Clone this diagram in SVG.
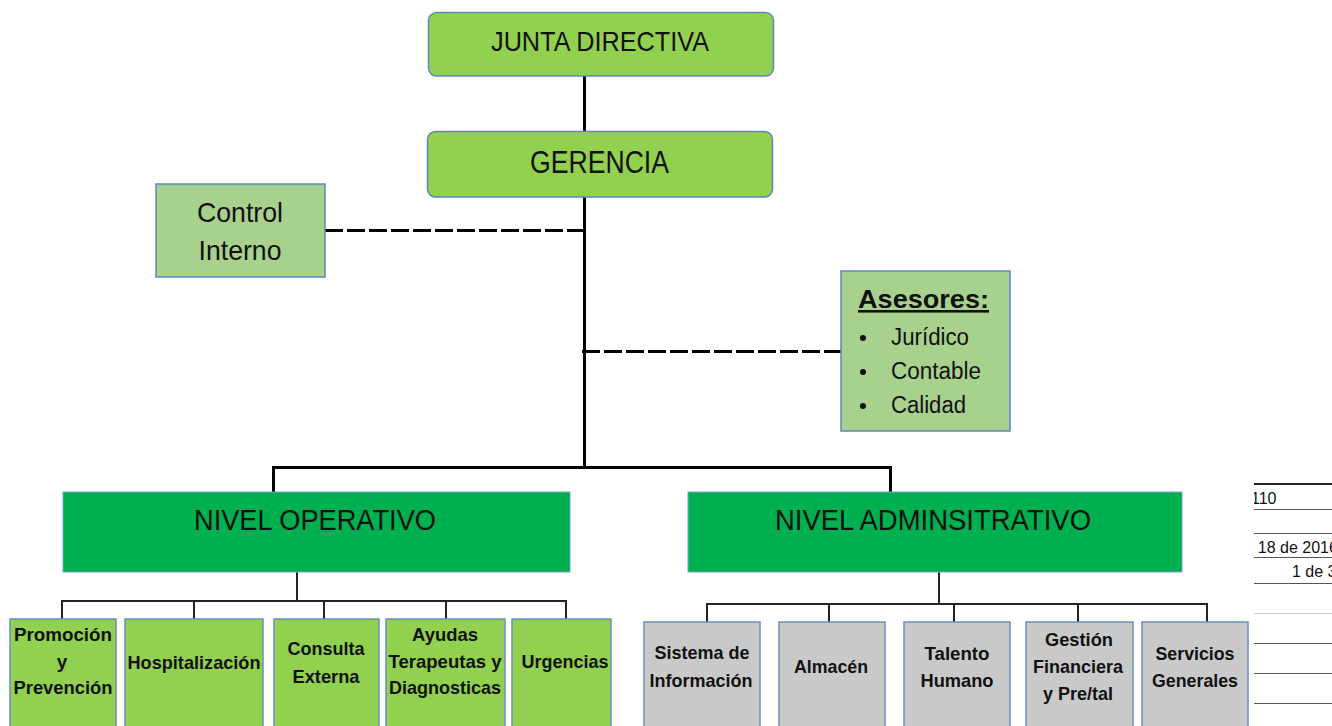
<svg xmlns="http://www.w3.org/2000/svg" width="1332" height="726" viewBox="0 0 1332 726">
<style>
.top{fill:#92d050;stroke:#5f86bd;stroke-width:1.5}
.lg{fill:#a9d18e;stroke:#5f86bd;stroke-width:1.5}
.lvl{fill:#00b050;stroke:#7f9fcf;stroke-width:1}
.gb{fill:#92d050;stroke:#6a8fbf;stroke-width:1.5}
.gy{fill:#c9c9c9;stroke:#6a8fbf;stroke-width:1.5}
.t{font-family:"Liberation Sans",Arial,sans-serif;fill:#111;text-anchor:middle}
.b{font-family:"Liberation Sans",Arial,sans-serif;fill:#111;text-anchor:middle;font-weight:bold;font-size:19px}
.main{stroke:#000;stroke-width:3;fill:none}
.dash{stroke:#000;stroke-width:3;fill:none;stroke-dasharray:18 4}
.sub{stroke:#222;stroke-width:2;fill:none}
.rl{stroke:#555;stroke-width:1;fill:none}
.rt{font-family:"Liberation Sans",Arial,sans-serif;font-size:16px;fill:#111}
</style>
<defs>
<clipPath id="rc"><rect x="1254" y="470" width="78" height="256"/></clipPath>
</defs>
<rect width="1332" height="726" fill="#fff"/>

<g id="connectors">
<line class="main" x1="584.5" y1="76" x2="584.5" y2="132"/>
<line class="main" x1="584.5" y1="197" x2="584.5" y2="468"/>
<line class="dash" x1="325" y1="230.5" x2="584" y2="230.5"/>
<line class="dash" x1="582" y1="351.5" x2="841" y2="351.5"/>
<polyline class="main" points="273.5,492 273.5,467.5 890.5,467.5 890.5,492"/>
<line class="sub" x1="297" y1="572" x2="297" y2="601"/>
<polyline class="sub" points="62,619 62,601 566,601 566,619"/>
<line class="sub" x1="194" y1="601" x2="194" y2="619"/>
<line class="sub" x1="324" y1="601" x2="324" y2="619"/>
<line class="sub" x1="446" y1="601" x2="446" y2="619"/>
<line class="sub" x1="939" y1="572" x2="939" y2="604"/>
<polyline class="sub" points="707,622 707,604 1207,604 1207,622"/>
<line class="sub" x1="829" y1="604" x2="829" y2="622"/>
<line class="sub" x1="954" y1="604" x2="954" y2="622"/>
<line class="sub" x1="1078" y1="604" x2="1078" y2="622"/>
</g>

<g id="junta">
<rect class="top" x="428.5" y="12.5" width="345" height="63.5" rx="8"/>
<text class="t" x="600" y="51" font-size="28" textLength="218" lengthAdjust="spacingAndGlyphs">JUNTA DIRECTIVA</text>
</g>
<g id="gerencia">
<rect class="top" x="427.5" y="131.5" width="345" height="65.5" rx="8"/>
<text class="t" x="599.5" y="173" font-size="31" textLength="139" lengthAdjust="spacingAndGlyphs">GERENCIA</text>
</g>
<g id="control">
<rect class="lg" x="156" y="184" width="169" height="93"/>
<text class="t" x="240" y="222" font-size="28" textLength="86" lengthAdjust="spacingAndGlyphs">Control</text>
<text class="t" x="240" y="260" font-size="28" textLength="83" lengthAdjust="spacingAndGlyphs">Interno</text>
</g>
<g id="asesores">
<rect class="lg" x="841" y="271" width="169" height="160"/>
<text x="858" y="308" font-family="Liberation Sans, Arial, sans-serif" font-size="26" font-weight="bold" fill="#111" text-decoration="underline" textLength="131" lengthAdjust="spacingAndGlyphs">Asesores:</text>
<circle cx="863" cy="338" r="3" fill="#111"/>
<circle cx="863" cy="372" r="3" fill="#111"/>
<circle cx="863" cy="406" r="3" fill="#111"/>
<text x="891" y="345" font-family="Liberation Sans, Arial, sans-serif" font-size="23" fill="#111" textLength="78" lengthAdjust="spacingAndGlyphs">Jurídico</text>
<text x="891" y="379" font-family="Liberation Sans, Arial, sans-serif" font-size="23" fill="#111" textLength="90" lengthAdjust="spacingAndGlyphs">Contable</text>
<text x="891" y="413" font-family="Liberation Sans, Arial, sans-serif" font-size="23" fill="#111" textLength="75" lengthAdjust="spacingAndGlyphs">Calidad</text>
</g>
<g id="nivel-operativo">
<rect class="lvl" x="63" y="492" width="507" height="80"/>
<text class="t" x="315" y="530" font-size="30" textLength="242" lengthAdjust="spacingAndGlyphs">NIVEL OPERATIVO</text>
</g>
<g id="nivel-administrativo">
<rect class="lvl" x="688" y="492" width="494" height="80"/>
<text class="t" x="933" y="530" font-size="30" textLength="316" lengthAdjust="spacingAndGlyphs">NIVEL ADMINSITRATIVO</text>
</g>

<g id="promocion">
<rect class="gb" x="10" y="619" width="106" height="115"/>
<text class="b" x="63" y="641" textLength="98" lengthAdjust="spacingAndGlyphs">Promoción</text>
<text class="b" x="62" y="668">y</text>
<text class="b" x="63" y="694" textLength="99" lengthAdjust="spacingAndGlyphs">Prevención</text>
</g>
<g id="hospitalizacion">
<rect class="gb" x="125" y="619" width="138" height="115"/>
<text class="b" x="194" y="669" textLength="133" lengthAdjust="spacingAndGlyphs">Hospitalización</text>
</g>
<g id="consulta">
<rect class="gb" x="274" y="619" width="105" height="115"/>
<text class="b" x="326" y="655" textLength="77" lengthAdjust="spacingAndGlyphs">Consulta</text>
<text class="b" x="326" y="683" textLength="67" lengthAdjust="spacingAndGlyphs">Externa</text>
</g>
<g id="ayudas">
<rect class="gb" x="386" y="619" width="119" height="115"/>
<text class="b" x="445" y="641" textLength="66" lengthAdjust="spacingAndGlyphs">Ayudas</text>
<text class="b" x="445" y="668" textLength="113" lengthAdjust="spacingAndGlyphs">Terapeutas y</text>
<text class="b" x="445" y="694" textLength="112" lengthAdjust="spacingAndGlyphs">Diagnosticas</text>
</g>
<g id="urgencias">
<rect class="gb" x="512" y="619" width="99" height="115"/>
<text class="b" x="565" y="668" textLength="87" lengthAdjust="spacingAndGlyphs">Urgencias</text>
</g>

<g id="sistema">
<rect class="gy" x="644" y="622" width="116" height="112"/>
<text class="b" x="702" y="659" textLength="95" lengthAdjust="spacingAndGlyphs">Sistema de</text>
<text class="b" x="701" y="687" textLength="103" lengthAdjust="spacingAndGlyphs">Información</text>
</g>
<g id="almacen">
<rect class="gy" x="779" y="622" width="106" height="112"/>
<text class="b" x="831" y="673" textLength="74" lengthAdjust="spacingAndGlyphs">Almacén</text>
</g>
<g id="talento">
<rect class="gy" x="904" y="622" width="106" height="112"/>
<text class="b" x="957" y="660" textLength="65" lengthAdjust="spacingAndGlyphs">Talento</text>
<text class="b" x="957" y="687" textLength="73" lengthAdjust="spacingAndGlyphs">Humano</text>
</g>
<g id="gestion">
<rect class="gy" x="1026" y="622" width="107" height="112"/>
<text class="b" x="1079" y="646" textLength="68" lengthAdjust="spacingAndGlyphs">Gestión</text>
<text class="b" x="1078" y="673" textLength="90" lengthAdjust="spacingAndGlyphs">Financiera</text>
<text class="b" x="1078" y="700" textLength="70" lengthAdjust="spacingAndGlyphs">y Pre/tal</text>
</g>
<g id="servicios">
<rect class="gy" x="1142" y="622" width="106" height="112"/>
<text class="b" x="1195" y="660" textLength="79" lengthAdjust="spacingAndGlyphs">Servicios</text>
<text class="b" x="1195" y="687" textLength="86" lengthAdjust="spacingAndGlyphs">Generales</text>
</g>

<g id="side-table" clip-path="url(#rc)">
<line x1="1254" y1="484" x2="1332" y2="484" stroke="#222" stroke-width="2"/>
<line class="rl" x1="1254" y1="509.5" x2="1332" y2="509.5"/>
<line class="rl" x1="1254" y1="533.5" x2="1332" y2="533.5"/>
<line class="rl" x1="1254" y1="557.5" x2="1332" y2="557.5"/>
<line class="rl" x1="1254" y1="583.5" x2="1332" y2="583.5"/>
<line x1="1254" y1="613.5" x2="1332" y2="613.5" stroke="#ccc" stroke-width="1"/>
<line class="rl" x1="1254" y1="643.5" x2="1332" y2="643.5"/>
<line class="rl" x1="1254" y1="673.5" x2="1332" y2="673.5"/>
<line class="rl" x1="1254" y1="703.5" x2="1332" y2="703.5"/>
<text class="rt" x="1251" y="504">110</text>
<text class="rt" x="1248" y="553">) 18 de 2016</text>
<text class="rt" x="1292" y="577">1 de 3</text>
</g>
</svg>
